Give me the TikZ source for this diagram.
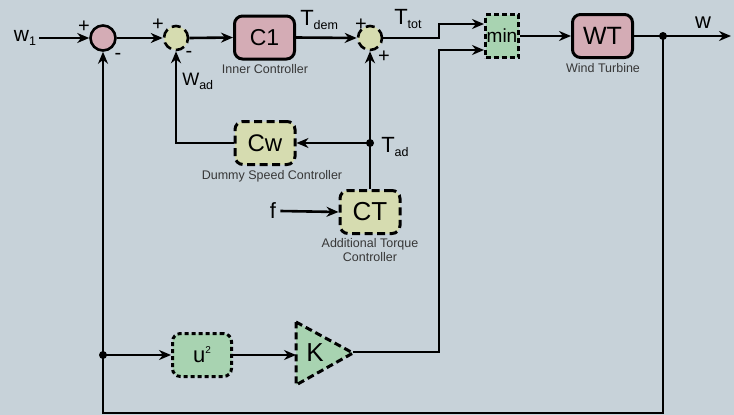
\documentclass[tikz,border=0pt]{standalone}
\usepackage{fontspec}
\setmainfont{Liberation Sans}
\usetikzlibrary{arrows.meta}
\definecolor{bgc}{RGB}{199,210,217}
\definecolor{pinkf}{RGB}{212,172,181}
\definecolor{yelf}{RGB}{214,220,176}
\definecolor{grnf}{RGB}{168,211,177}
\definecolor{capc}{RGB}{55,55,55}
\newcommand\lsub[1]{\raisebox{-4pt}{\fontsize{12.5}{12.5}\selectfont #1}}
\newcommand\fs[1]{\fontsize{#1}{#1}\selectfont}
\begin{document}
\begin{tikzpicture}[x=1pt,y=-1pt,line width=2.6pt,
  >={Stealth[length=12pt,width=10pt]},
  solidbox/.style={draw,line width=3pt,fill=pinkf,rounded corners=8pt,minimum width=60pt,minimum height=43pt,inner sep=0pt},
  dashbox/.style={draw,line width=3pt,fill=yelf,dash pattern=on 8pt off 4.5pt,rounded corners=8pt,minimum width=60pt,minimum height=43pt,inner sep=0pt},
  sumsolid/.style={circle,draw,line width=2.6pt,fill=pinkf,minimum size=25pt,inner sep=0pt},
  sumdash/.style={circle,draw,line width=2.6pt,fill=yelf,dash pattern=on 9pt off 5pt,minimum size=24pt,inner sep=0pt},
  caption/.style={font=\fs{12.5},text=capc,align=center,inner sep=0pt},
  sign/.style={font=\fs{20},inner sep=0pt},
  lab/.style={inner sep=0pt},
  dot/.style={circle,fill=black,minimum size=8pt,inner sep=0pt}]
\fill[bgc] (0,0) rectangle (734,415);
% main row
\node[lab,font=\fs{21}] (w1) at (25,38) {w\lsub{1}};
\node[sumsolid] (sum1) at (103,38) {};
\node[sumdash] (sum2) at (176,38) {};
\node[solidbox,font=\fs{23}] (C1) at (264.5,37.5) {C1};
\node[caption] (capC1) at (265,69) {Inner Controller};
\node[sumdash] (sum3) at (370,38) {};
\node[draw,line width=3pt,fill=grnf,dash pattern=on 5pt off 3pt,minimum width=33pt,minimum height=43pt,inner sep=0pt,font=\fs{19}] (min) at (502,36) {min};
\node[solidbox,font=\fs{25}] (WT) at (602.5,36) {WT};
\node[caption] (capWT) at (603,68) {Wind Turbine};
\node[dot] (J) at (663,36) {};
\coordinate (out) at (731,36);
\node[lab,font=\fs{22}] (wout) at (703,23) {w};
% signs and signal labels
\node[sign] (p1) at (84,27) {+};
\node[sign] (m1) at (118,56) {-};
\node[sign] (p2) at (158,25) {+};
\node[sign] (m2) at (189,54) {-};
\node[sign] (p3) at (361,25) {+};
\node[sign] (p4) at (384,57) {+};
\node[lab,anchor=west,font=\fs{22}] (Tdem) at (299,20) {T\lsub{dem}};
\node[lab,anchor=west,font=\fs{22}] (Ttot) at (393,19) {T\lsub{tot}};
\node[lab,anchor=west,font=\fs{18}] (Wad) at (181,81) {W\lsub{ad}};
% middle
\node[dashbox,font=\fs{24}] (Cw) at (265,143) {Cw};
\node[caption] (capCw) at (272,176) {Dummy Speed Controller};
\node[dot] (Tad) at (370,143) {};
\node[lab,anchor=west,font=\fs{22}] (Tadl) at (380,147) {T\lsub{ad}};
\node[dashbox,font=\fs{26}] (CT) at (370,212) {CT};
\node[caption] (capCT) at (370,250) {Additional Torque\\[1pt]Controller};
\node[lab,font=\fs{22}] (f) at (273,211) {f};
% bottom
\node[dot] (J2) at (103,355) {};
\node[draw,line width=3pt,fill=grnf,dash pattern=on 4pt off 3pt,rounded corners=8pt,minimum width=59pt,minimum height=43pt,inner sep=0pt,font=\fs{22}] (u2) at (202,355) {u\raisebox{9pt}{\fs{10}2}};
\filldraw[line width=3pt,fill=grnf,dash pattern=on 7pt off 4pt] (296,322) -- (353,353) -- (296,385) -- cycle;
\node[lab,font=\fs{26}] (K) at (315,353) {K};
\coordinate (Kin) at (296,355);
\coordinate (Ktip) at (353,352);
\coordinate (k1) at (439,24);
\coordinate (k2) at (439,50);
\coordinate (bot) at (103,413);
% connectors
\draw[->] (w1.east) ++(2,0) -- (sum1.west);
\draw[->] (sum1.east) -- (sum2.west);
\draw[->] (sum2.east) -- (C1.west);
\draw[->] (C1.east) -- (sum3.west);
\draw[->] (sum3.east) -- (k1 |- sum3.east) -- (k1) -- (min.west |- k1);
\draw[->] (Ktip) -| (k2) -- (min.west |- k2);
\draw[->] (min.east) -- (WT.west);
\draw[->] (WT.east) -- (out);
\draw[->] (J.center) -- (J |- bot) -- (bot) -- (sum1.south);
\draw[->] (Tad.center) -- (Cw.east);
\draw[->] (Cw.west) -| (sum2.south);
\draw (CT.north) -- (Tad.center);
\draw[->] (Tad.center) -- (sum3.south);
\draw[->] (f.east) ++(3,0) -- (CT.west);
\draw[->] (J2.center) -- (u2.west);
\draw[->] (u2.east) -- (Kin);
\end{tikzpicture}
\end{document}
